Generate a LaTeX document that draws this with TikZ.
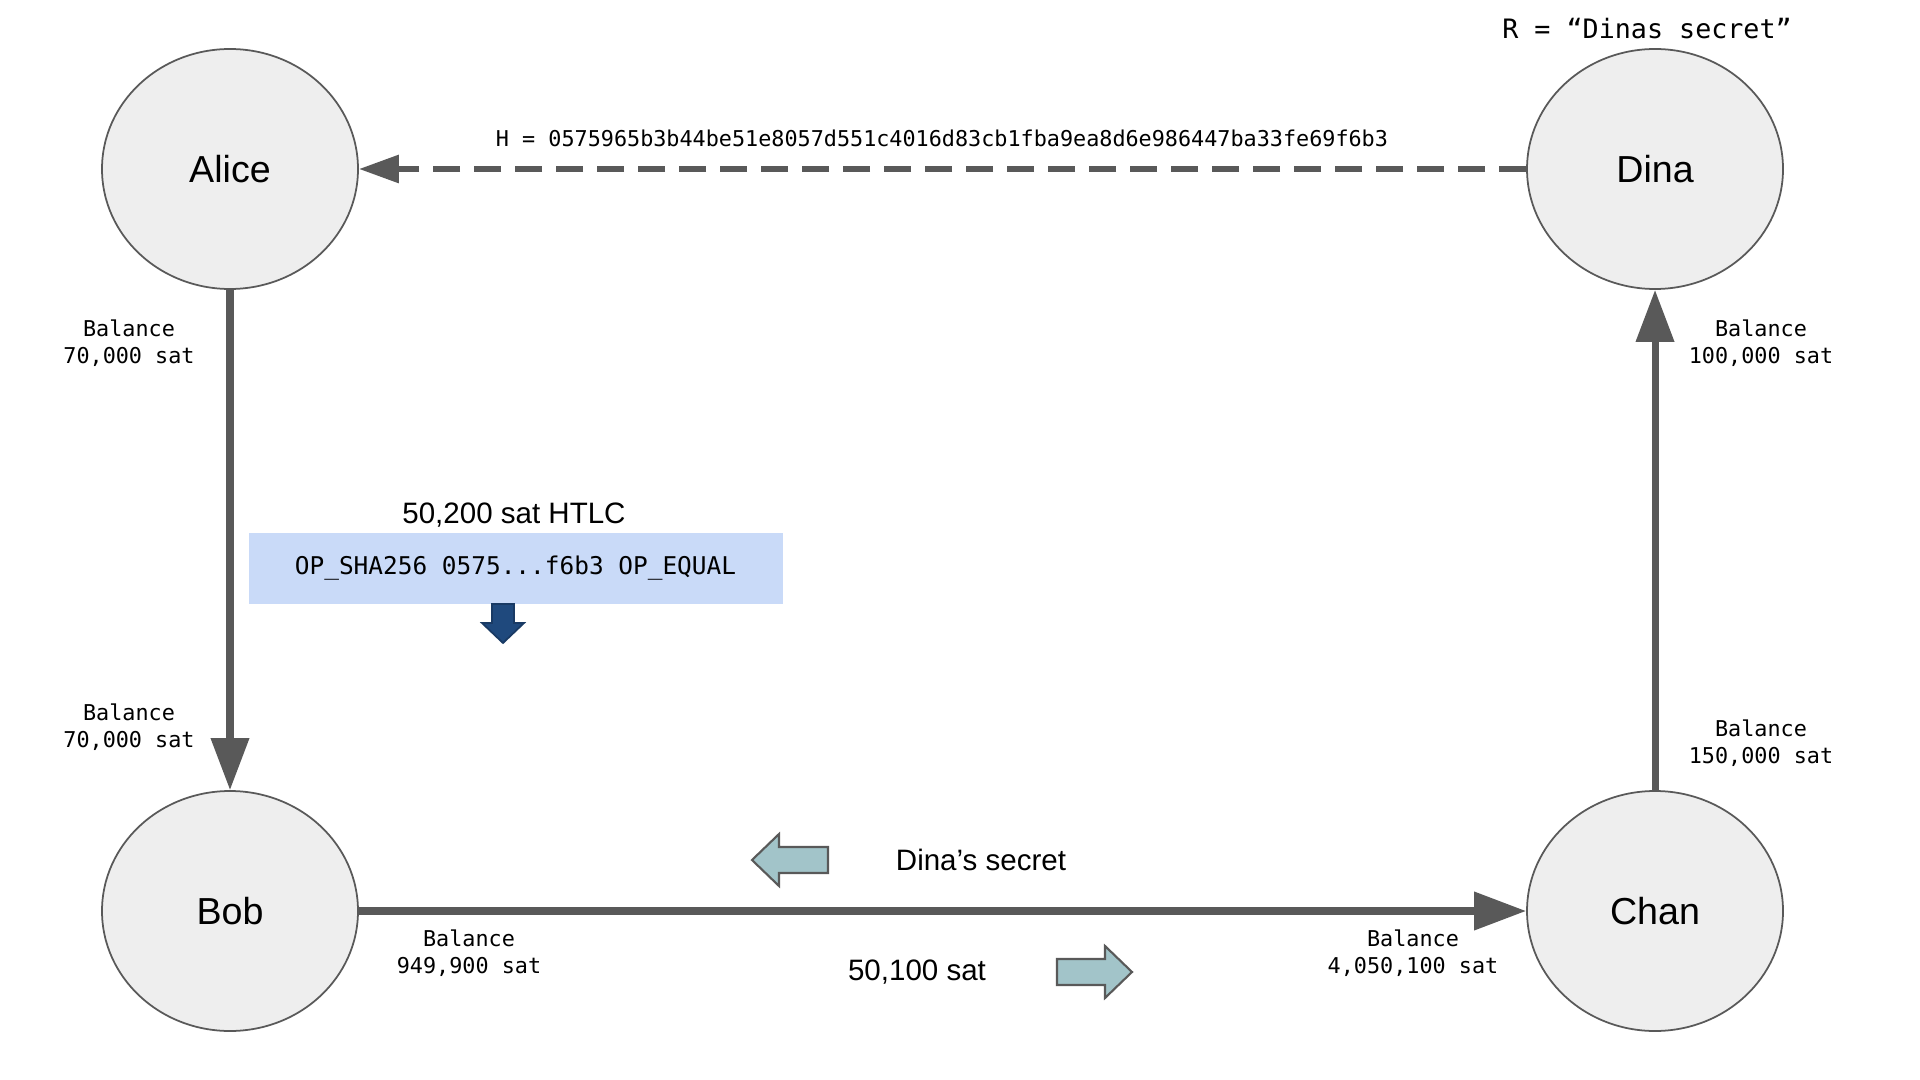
\documentclass[tikz,border=0pt]{standalone}
\usepackage{fontspec}
\setmainfont{Liberation Sans}
\setmonofont{DejaVu Sans Mono}
\usepackage{xcolor}
\definecolor{lngray}{HTML}{595959}
\definecolor{lnnode}{HTML}{EEEEEE}
\definecolor{lnteal}{HTML}{A2C4C9}
\definecolor{lnbox}{HTML}{C9DAF8}
\definecolor{lnnavy}{HTML}{1F497D}
\usepackage{tikz}
\usetikzlibrary{arrows.meta,positioning,shapes.geometric,calc}

\tikzset{
  peer/.style={ellipse, draw=lngray, line width=0.5pt, fill=lnnode, minimum width=2.56cm, minimum height=2.40cm, inner sep=0pt, font=\fontsize{10.7}{12}\selectfont},
  flow/.style={-{Triangle[length=0.52cm, width=0.37cm]}, line width=2pt, lngray},
  hashflow/.style={-{Triangle[length=0.40cm, width=0.27cm]}, line width=1.7pt, lngray, dash pattern=on 0.27cm off 0.14cm},
  balance/.style={align=center, font=\ttfamily\fontsize{6.2}{7.7}\selectfont, inner sep=0pt},
  caption/.style={font=\fontsize{8.4}{10}\selectfont, inner sep=0pt},
  blockarrow/.style={draw=lngray, line width=0.6pt, fill=lnteal, line join=miter},
}

\begin{document}
\begin{tikzpicture}
  \useasboundingbox (0,0) rectangle (19.2,-10.8);

  %% --- PEERS ---
  \node[peer] (alice) at (2.30,-1.69)  {Alice};
  \node[peer] (dina)  at (16.55,-1.69) {Dina};
  \node[peer] (bob)   at (2.30,-9.11)  {Bob};
  \node[peer] (chan)  at (16.55,-9.11) {Chan};

  %% --- CHANNELS ---
  \draw[flow]     (alice) -- (bob);
  \draw[flow]     (bob)   -- (chan);
  \draw[flow]     (chan)  -- (dina);
  \draw[hashflow] (dina)  -- (alice);

  %% --- SECRET AND HASH ---
  \node[font=\ttfamily\fontsize{7.6}{9}\selectfont, inner sep=0pt] (secret) at (16.47,-0.29) {R = “Dinas secret”};
  \node[font=\ttfamily\fontsize{6.2}{7.5}\selectfont, inner sep=0pt] (hash) at (9.42,-1.38) {H = 0575965b3b44be51e8057d551c4016d83cb1fba9ea8d6e986447ba33fe69f6b3};

  %% --- BALANCES ---
  \node[balance] (balatop) at (1.29,-3.43)  {Balance\\70,000 sat};
  \node[balance] (balabot) at (1.29,-7.27)  {Balance\\70,000 sat};
  \node[balance] (baldtop) at (17.61,-3.43) {Balance\\100,000 sat};
  \node[balance] (balctop) at (17.61,-7.43) {Balance\\150,000 sat};
  \node[balance] (balbob)  at (4.69,-9.53)  {Balance\\949,900 sat};
  \node[balance] (balchan) at (14.13,-9.53) {Balance\\4,050,100 sat};

  %% --- HTLC ---
  \node[caption] (htlctitle) at (5.14,-5.15) {50,200 sat HTLC};
  \node[fill=lnbox, minimum width=5.34cm, minimum height=0.71cm, inner sep=0pt, font=\ttfamily\fontsize{6.95}{8.5}\selectfont] (script) at (5.155,-5.685) {OP\_SHA256 0575...f6b3 OP\_EQUAL};
  \draw[draw=lnnavy!80!black, line width=0.5pt, fill=lnnavy, line join=miter]
    (4.92,-6.04) -- (5.14,-6.04) -- (5.14,-6.23) -- (5.24,-6.23) -- (5.03,-6.43) -- (4.82,-6.23) -- (4.92,-6.23) -- cycle;

  %% --- PAYMENT AND SECRET FLOW ---
  \node[caption] (secretlabel) at (9.81,-8.60) {Dina’s secret};
  \draw[blockarrow] (8.28,-8.47) -- (7.79,-8.47) -- (7.79,-8.34) -- (7.52,-8.60) -- (7.79,-8.86) -- (7.79,-8.73) -- (8.28,-8.73) -- cycle;
  \node[caption] (amount) at (9.17,-9.72) {50,100 sat};
  \draw[blockarrow] (10.57,-9.59) -- (11.05,-9.59) -- (11.05,-9.46) -- (11.32,-9.72) -- (11.05,-9.98) -- (11.05,-9.85) -- (10.57,-9.85) -- cycle;
\end{tikzpicture}
\end{document}
